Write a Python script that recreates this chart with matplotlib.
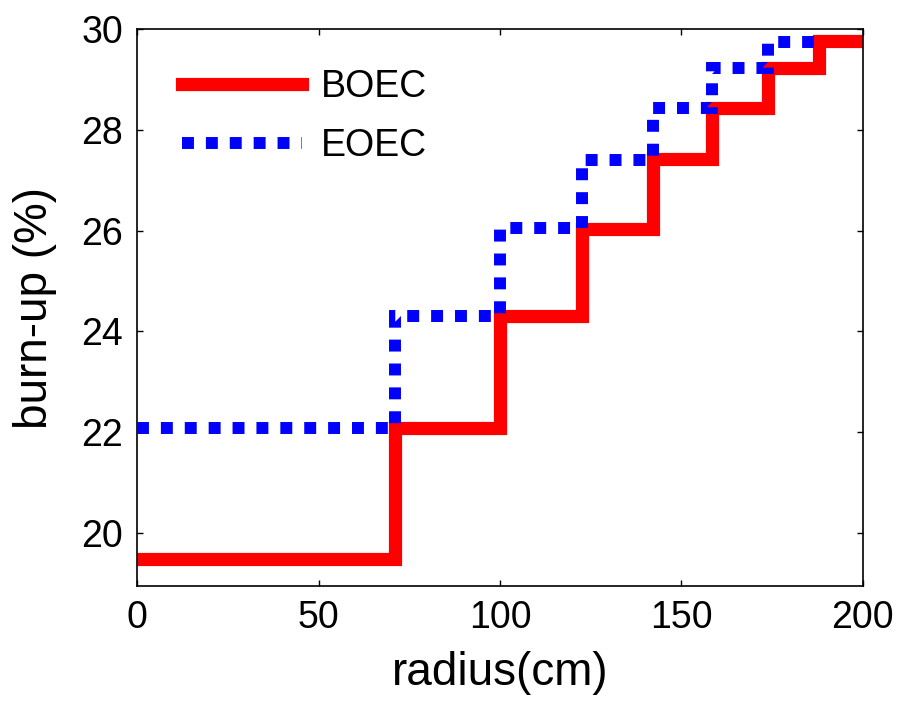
import matplotlib
matplotlib.use("Agg")
import matplotlib.pyplot as plt

# step boundaries (cm) and burn-up values (%)
r_boec = [0, 71, 100, 122.5, 142.3, 158.5, 174, 188, 200]
bu_boec = [19.47, 22.08, 24.30, 26.03, 27.42, 28.43, 29.24, 29.76]

r_eoec = [0, 71, 100, 122.5, 142.3, 158.5, 174, 188]
bu_eoec = [22.08, 24.30, 26.05, 27.40, 28.43, 29.23, 29.74]

xticks = [0, 50, 100, 150, 200]
yticks = [20, 22, 24, 26, 28, 30]

plt.rcParams['font.family'] = ['Liberation Sans', 'DejaVu Sans']

fig = plt.figure(figsize=(9.03, 7.07), dpi=100)
ax = fig.add_axes([0.152, 0.171, 0.8034, 0.7876])

ax.stairs(bu_boec, r_boec, color='#ff0000', lw=9.5, label='BOEC',
          baseline=None, zorder=2)
ax.stairs(bu_eoec, r_eoec, color='#0000ff', lw=8.6, ls=(0, (1, 1)),
          label='EOEC', baseline=None, zorder=3)

ax.set_xlim(0, 200)
ax.set_ylim(18.94, 29.95)
ax.set_xticks(xticks)
ax.set_yticks(yticks)
ax.tick_params(direction='in', length=4, width=1, top=True, right=True,
               labelsize=27, pad=10)
for s in ax.spines.values():
    s.set_linewidth(1.2)

ax.set_xlabel('radius(cm)', fontsize=33, labelpad=11)
ax.set_ylabel('burn-up (%)', fontsize=33, labelpad=18)

leg = ax.legend(loc='upper left', bbox_to_anchor=(0.062, 0.928), frameon=False,
                fontsize=27, handlelength=3.2, handletextpad=0.5,
                borderpad=0, borderaxespad=0, labelspacing=0.6)

fig.savefig('out.png', dpi=100)
